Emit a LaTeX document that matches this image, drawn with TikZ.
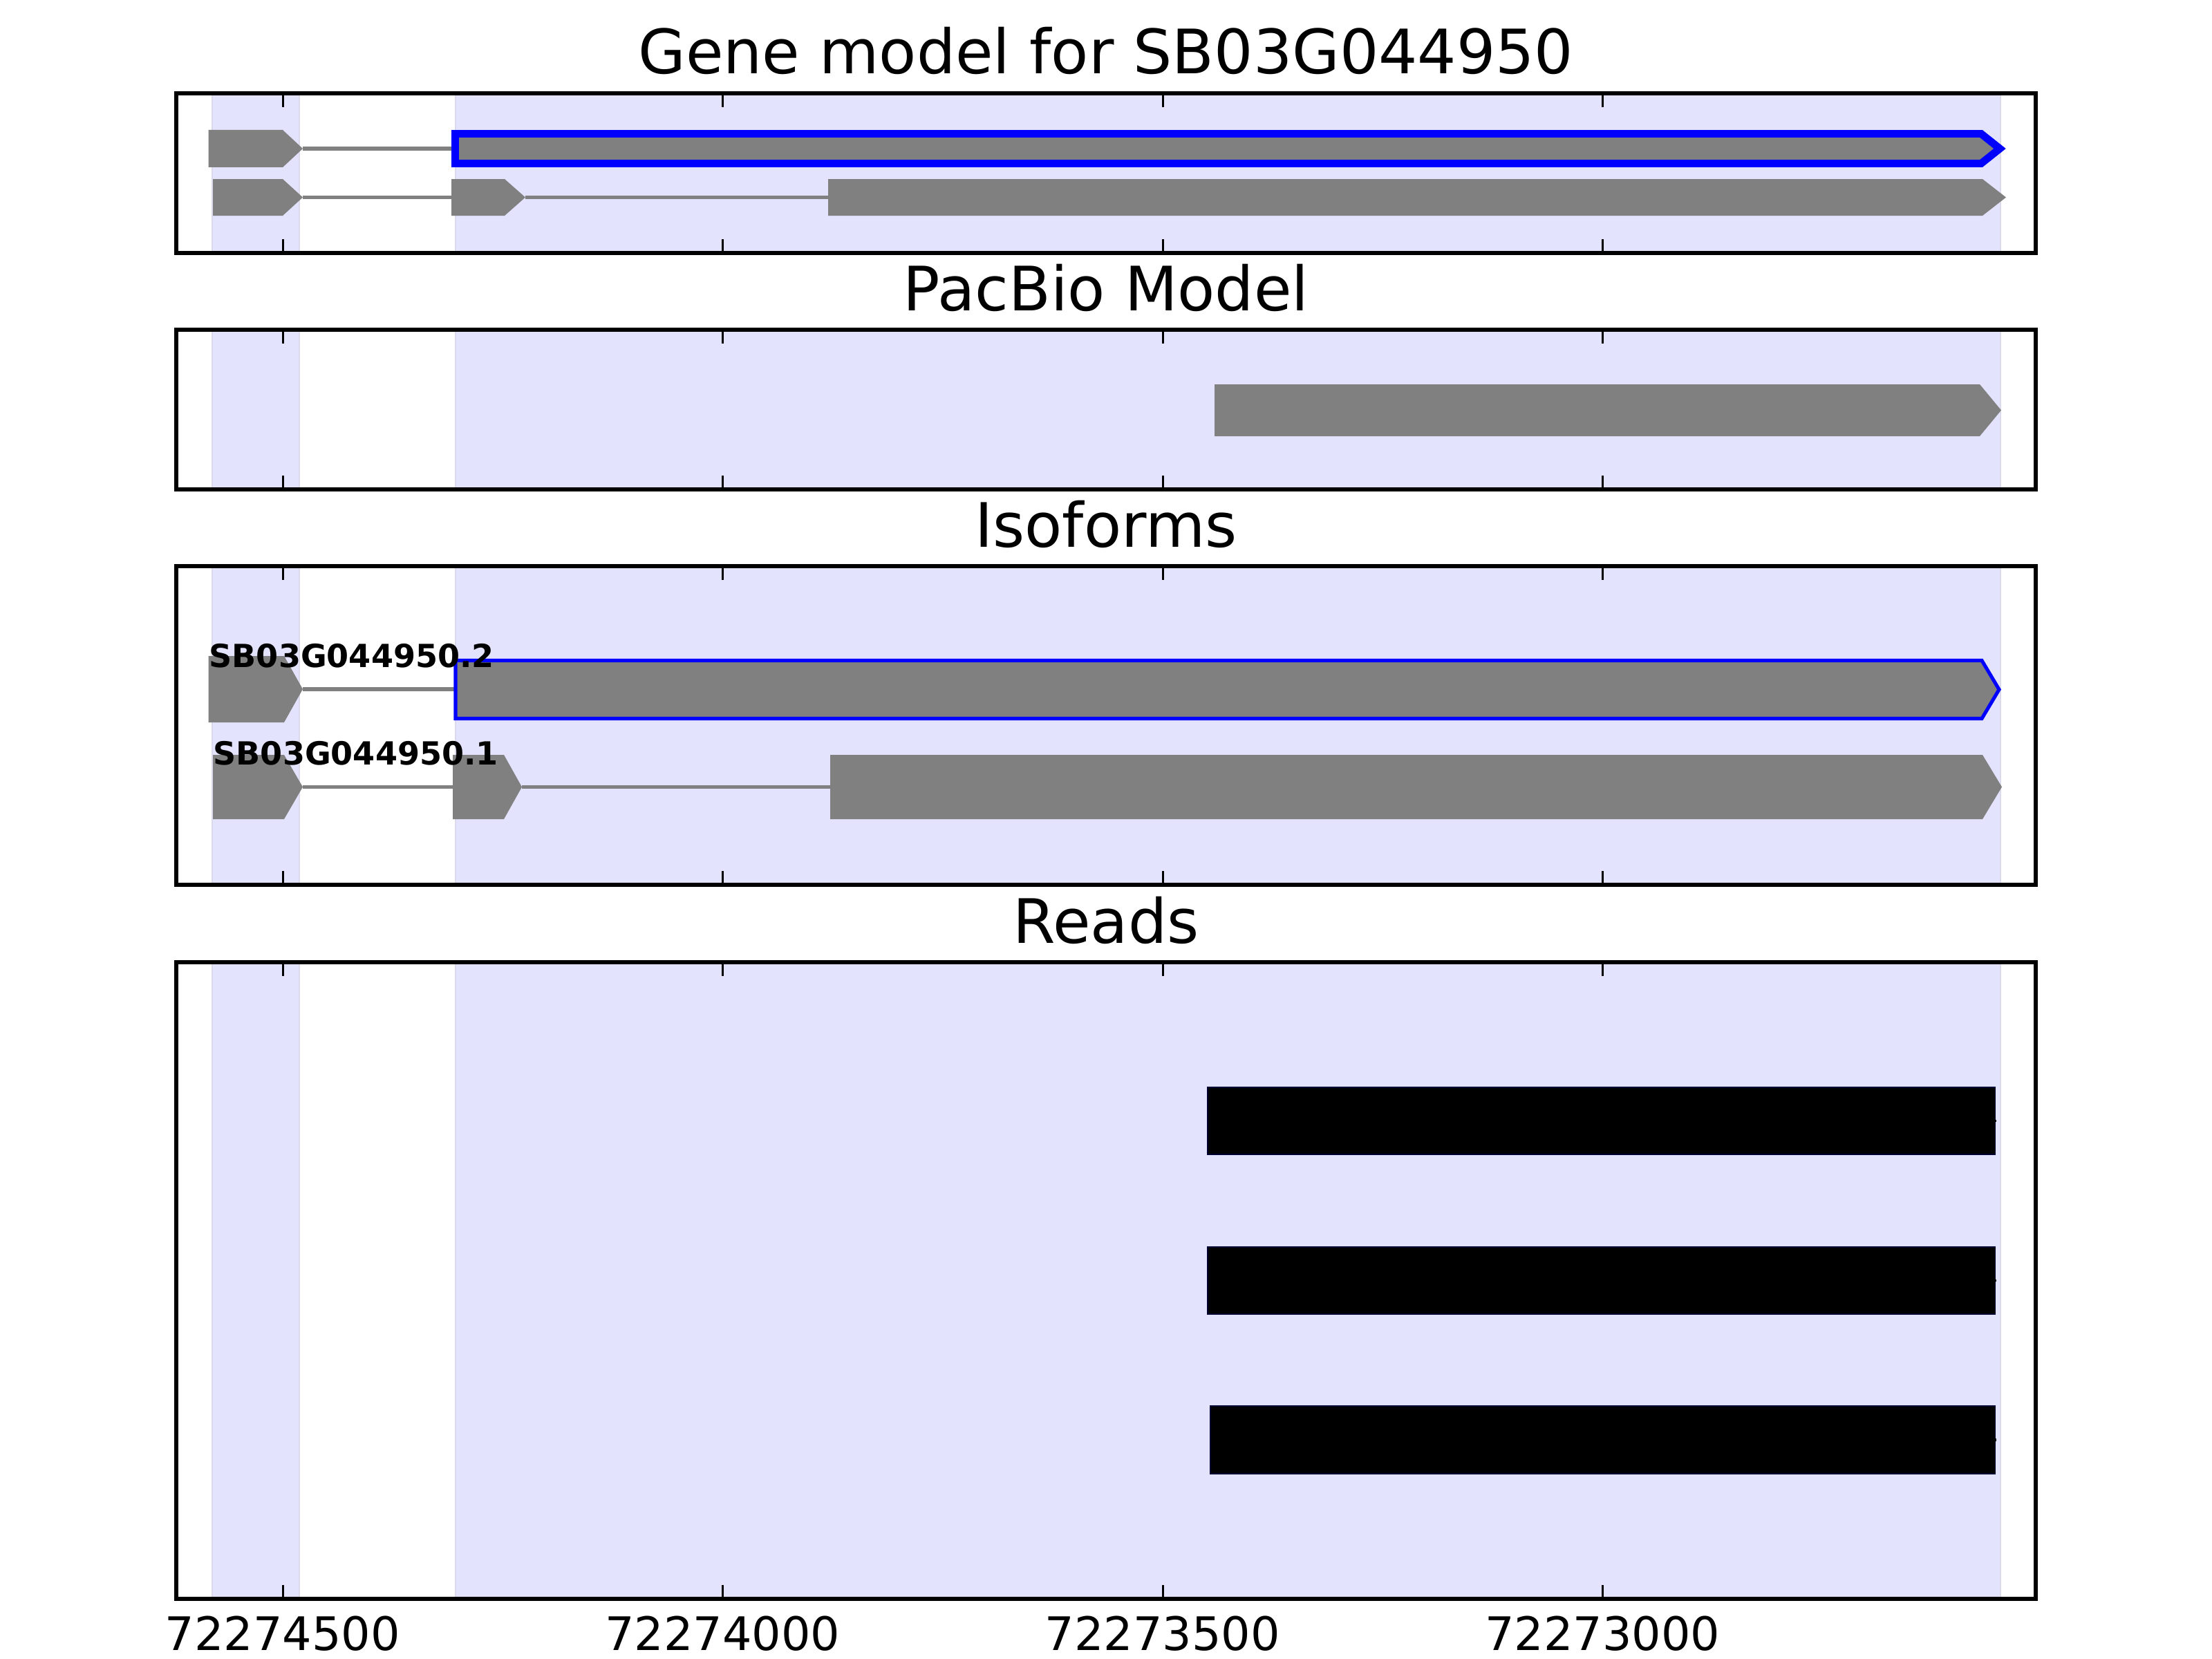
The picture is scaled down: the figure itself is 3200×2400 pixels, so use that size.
\documentclass[tikz,border=0pt]{standalone}
\usepackage{fontspec}
\setmainfont{DejaVu Sans}
\definecolor{shadec}{RGB}{227,227,253}
\definecolor{shadeedge}{RGB}{218,218,236}
\definecolor{exongray}{RGB}{128,128,128}
\newcommand{\gexon}[5]{\fill[exongray] (#1,#4) -- (#2,#4) -- (#3,{(#4+#5)/2}) -- (#2,#5) -- (#1,#5) -- cycle;}
\begin{document}
\begin{tikzpicture}[x=0.01cm,y=-0.01cm,
  frame/.style={draw=black,line width=1.45pt},
  shadebox/.style={fill=shadec,draw=shadeedge,line width=0.8pt},
  tickmark/.style={draw=black,line width=0.85pt},
  intron/.style={draw=exongray,line width=1.45pt},
  readbar/.style={fill=black,draw=black!80!blue,line width=0.3pt},
  readend/.style={draw=black,line width=1pt},
  titletext/.style={font=\fontsize{25.2}{30}\selectfont,anchor=base,inner sep=0pt},
  ticktext/.style={font=\fontsize{19}{23}\selectfont,anchor=base,inner sep=0pt},
  isolabel/.style={font=\bfseries\fontsize{13.1}{15}\selectfont,anchor=base west,inner sep=0pt}
]
\useasboundingbox (0,0) rectangle (3200,2400);
\fill[white] (0,0) rectangle (3200,2400);

% shaded exon regions and ticks
\foreach \t/\b in {135/366,477/708,819/1280,1392/2313}{
  \filldraw[shadebox] (307,\t) rectangle (433,\b);
  \filldraw[shadebox] (659,\t) rectangle (2894,\b);
  \foreach \x in {409,1045.5,1682,2318.5}{
    \draw[tickmark] (\x,\t) -- (\x,{\t+20});
    \draw[tickmark] (\x,\b) -- (\x,{\b-20});
  }
}

% Panel 1: gene model
\coordinate (p1a) at (438,215);
\coordinate (p1b) at (653,215);
\draw[intron] (p1a) -- (p1b);
\gexon{301.5}{409}{438}{188}{242}
\filldraw[fill=exongray,draw=blue,line width=3.1pt,miter limit=10]
  (658.5,193.5) -- (2866,193.5) -- (2893,215) -- (2866,236.5) -- (658.5,236.5) -- cycle;
\coordinate (p1c) at (438,285.5);
\coordinate (p1d) at (653,285.5);
\coordinate (p1e) at (760,285.5);
\coordinate (p1f) at (1198,285.5);
\draw[intron] (p1c) -- (p1d);
\draw[intron] (p1e) -- (p1f);
\gexon{308}{409}{438}{259}{312}
\gexon{653}{730}{760}{259}{312}
\gexon{1198}{2868}{2902}{259}{312}

% Panel 2: PacBio model
\gexon{1757}{2864}{2895}{556}{631}

% Panel 3: isoforms
\coordinate (p3a) at (438,997);
\coordinate (p3b) at (659,997);
\draw[intron] (p3a) -- (p3b);
\gexon{301.5}{411}{438}{949}{1045}
\filldraw[fill=exongray,draw=blue,line width=1.45pt,miter limit=10]
  (659,955.5) -- (2867,955.5) -- (2892,997.5) -- (2867,1039.5) -- (659,1039.5) -- cycle;
\coordinate (p3c) at (438,1138.5);
\coordinate (p3d) at (655,1138.5);
\coordinate (p3e) at (755,1138.5);
\coordinate (p3f) at (1201,1138.5);
\draw[intron] (p3c) -- (p3d);
\draw[intron] (p3e) -- (p3f);
\gexon{308}{411}{438}{1092}{1185}
\gexon{655}{729}{755}{1092}{1185}
\gexon{1201}{2868}{2896}{1092}{1185}
\node[isolabel] (lab2) at (302,965) {SB03G044950.2};
\node[isolabel] (lab1) at (308,1106) {SB03G044950.1};

% Panel 4: reads
\filldraw[readbar] (1747,1573) rectangle (2886,1670);
\filldraw[readbar] (1747,1804) rectangle (2886,1901);
\filldraw[readbar] (1751,2034) rectangle (2886,2132);
\draw[readend] (2880,1621.5) -- (2888,1621.5);
\draw[readend] (2880,1852.5) -- (2888,1852.5);
\draw[readend] (2880,2083) -- (2888,2083);

% frames
\foreach \t/\b in {135/366,477/708,819/1280,1392/2313}{
  \draw[frame] (255,\t) rectangle (2945,\b);
}

% titles
\node[titletext] (t1) at (1600,107) {Gene model for SB03G044950};
\node[titletext] (t2) at (1600,449) {PacBio Model};
\node[titletext] (t3) at (1600,791) {Isoforms};
\node[titletext] (t4) at (1600,1364) {Reads};

% tick labels
\node[ticktext] (x1) at (409,2387) {72274500};
\node[ticktext] (x2) at (1045.5,2387) {72274000};
\node[ticktext] (x3) at (1682,2387) {72273500};
\node[ticktext] (x4) at (2318.5,2387) {72273000};
\end{tikzpicture}
\end{document}
